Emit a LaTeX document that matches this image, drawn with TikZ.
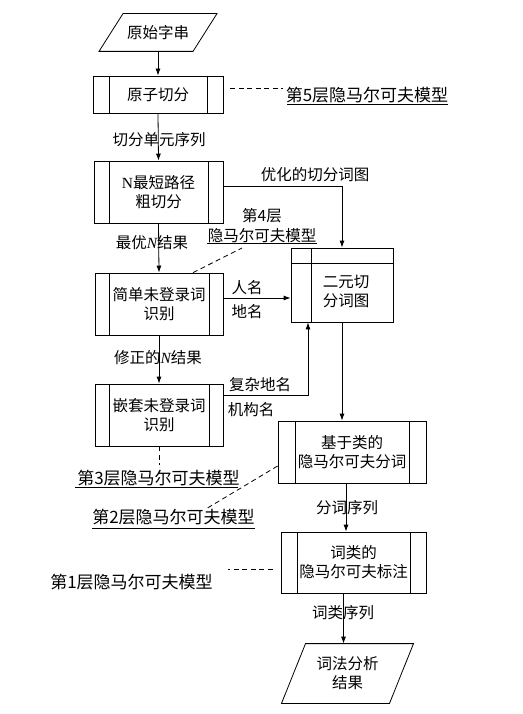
\documentclass[tikz,border=0pt]{standalone}
\usepackage{fontspec}
\setmainfont{Noto Sans CJK SC}
\newfontfamily\lat{Liberation Serif}
\usetikzlibrary{arrows.meta,calc}
\begin{document}
\begin{tikzpicture}[x=1pt,y=-1pt,line width=0.8pt,
  every node/.style={font=\fontsize{15.5}{19}\selectfont,align=center},
  ann/.style={font=\fontsize{17}{20}\selectfont},
  arr/.style={-{Latex[length=7pt,width=5pt]}},
  dsh/.style={dash pattern=on 5pt off 3.5pt},
  proc/.style args={#1/#2/#3}{draw,minimum width=#1pt,minimum height=#2pt,inner sep=0pt,
    path picture={
      \draw ([xshift=#3pt]path picture bounding box.north west) -- ([xshift=#3pt]path picture bounding box.south west);
      \draw ([xshift=-#3pt]path picture bounding box.north east) -- ([xshift=-#3pt]path picture bounding box.south east);}},
  ]
\useasboundingbox (0,0) rectangle (522,714);
\fill[white] (0,0) rectangle (522,714);

% start parallelogram
\node[minimum height=37pt,inner sep=0pt] (s) at (158,32.5) {原始字串};
\draw ($(s.north)+(-35,0)$) -- ($(s.north)+(59,0)$) -- ($(s.south)+(35,0)$) -- ($(s.south)+(-59,0)$) -- cycle;

% process boxes
\node[proc=130/37/16] (a) at (158,94.5) {原子切分};
\node[proc=129/62/15] (b) at (158.5,192) {{\lat N}最短路径\\粗切分};
\node[proc=128/62/14] (c) at (159,304) {简单未登录词\\识别};
\node[proc=128/62/14] (d) at (159,415) {嵌套未登录词\\识别};
\node[draw,minimum width=102pt,minimum height=74pt,inner sep=0pt,
  path picture={
    \draw ([xshift=20pt]path picture bounding box.north west) -- ([xshift=20pt]path picture bounding box.south west);
    \draw ([yshift=-15pt]path picture bounding box.north west) -- ([yshift=-15pt]path picture bounding box.north east);}] (e) at (342,285) {};
\node (eT) at (346,291) {二元切\\分词图};
\node[proc=148/62/17] (f) at (352,452) {基于类的\\隐马尔可夫分词};
\node[proc=145/61/16] (g) at (353.5,562.5) {词类的\\隐马尔可夫标注};

% end parallelogram
\node[minimum height=59pt,inner sep=0pt] (t) at (347.5,673.5) {词法分析\\结果};
\draw ($(t.north)+(-42,0)$) -- ($(t.north)+(66,0)$) -- ($(t.south)+(42,0)$) -- ($(t.south)+(-66,0)$) -- cycle;

% connectors
\draw[arr] (s.south) -- (a.north);
\draw[arr] (a.south) -- (b.north);
\node (l1) at (159,140) {切分单元序列};
\coordinate (bE) at ($(b.east)+(0,-6)$);
\draw[arr] (bE) -| (e.north);
\node (l2) at (315,175) {优化的切分词图};
\draw[arr] (b.south) -- (c.north);
\node (l3) at (152,243) {最优{\lat\itshape N}结果};
\coordinate (cE) at ($(c.east)+(0,-6)$);
\draw[arr] (cE) -- (cE -| e.west);
\node (l4) at (247,288) {人名};
\node (l5) at (247,312) {地名};
\draw[arr] (c.south) -- (d.north);
\node (l6) at (158,358) {修正的{\lat\itshape N}结果};
\coordinate (dE) at ($(d.east)+(0,-20)$);
\coordinate (eS) at ($(e.south)+(-34,0)$);
\draw[arr] (dE) -| (eS);
\node (l7) at (260,385) {复杂地名};
\node (l8) at (251,410) {机构名};
\draw[arr] (e.south) -- (e.south |- f.north);
\coordinate (fS) at ($(f.south)+(-6,0)$);
\draw[arr] (fS) -- (fS |- g.north);
\node (l9) at (347,508) {分词序列};
\coordinate (gS) at ($(g.south)+(-10,0)$);
\draw[arr] (gS) -- (gS |- t.north);
\node (l10) at (343,613) {词类序列};

% model annotations
\node[ann] (L5) at (367,95) {第5层隐马尔可夫模型};
\draw ($(L5.center)+(-80,9)$) -- ($(L5.center)+(81,9)$);
\draw[dsh] ($(a.east)+(7,-6.5)$) -- ($(L5.center)+(-84,-7)$);

\node (L4a) at (262,216) {第4层};
\node (L4) at (262,236) {隐马尔可夫模型};
\draw ($(L4.center)+(-55,7)$) -- ($(L4.center)+(55,7)$);
\draw[dsh] ($(c.north)+(34,0)$) -- ($(L4.center)+(-20,12)$);

\node[ann] (L3) at (158.5,478) {第3层隐马尔可夫模型};
\draw ($(L3.center)+(-83.5,9)$) -- ($(L3.center)+(79.5,9)$);
\draw[dsh] (d.south) -- ($(L3.center)+(0.5,-13)$);

\node[ann] (L2) at (173.5,517) {第2层隐马尔可夫模型};
\draw ($(L2.center)+(-81.5,11)$) -- ($(L2.center)+(81.5,11)$);
\draw[dsh] ($(f.west)+(0,14)$) -- ($(L2.center)+(34,-9)$);

\node[ann] (L1) at (131.5,582) {第1层隐马尔可夫模型};
\draw[dsh] ($(g.west)+(-8,6.5)$) -- ($(L1.east)+(12,-13)$);
\end{tikzpicture}
\end{document}
